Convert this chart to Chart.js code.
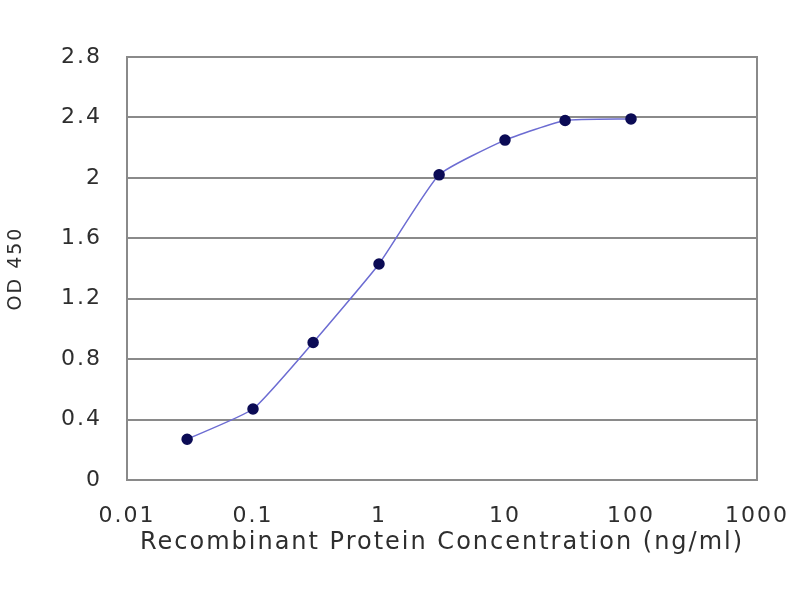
<!DOCTYPE html>
<html>
<head>
<meta charset="utf-8">
<script src="https://cdn.jsdelivr.net/npm/chart.js@4/dist/chart.umd.min.js"></script>
<style>
  html, body { margin: 0; padding: 0; background: #fff; }
  #wrap { width: 800px; height: 600px; }
</style>
</head>
<body>
<div id="wrap"><canvas id="myChart" width="800" height="600"></canvas></div>
<script>
// concentration (ng/ml) and OD 450
var concentration = [0.03, 0.1, 0.3, 1, 3, 10, 30, 100];
var od450 = [0.27, 0.47, 0.91, 1.43, 2.02, 2.25, 2.38, 2.39];
var xTicks = [0.01, 0.1, 1, 10, 100, 1000];
var yTicks = [0, 0.4, 0.8, 1.2, 1.6, 2, 2.4, 2.8];

var points = concentration.map(function (c, i) {
    return { x: c, y: od450[i] };
});

// the original lettering is wide, open it up a little
function widen(chart) {
    chart.ctx.letterSpacing = '2px';
}
var spacing = {
    id: 'spacing',
    beforeUpdate: widen,
    beforeLayout: widen,
    beforeDraw: widen
};

// grey frame round the plot area
var frame = {
    id: 'frame',
    beforeDatasetsDraw: function (chart) {
        var a = chart.chartArea, c = chart.ctx;
        c.save();
        c.strokeStyle = '#8a8a8a';
        c.lineWidth = 2;
        c.strokeRect(a.left, a.top, a.right - a.left, a.bottom - a.top);
        c.restore();
    }
};

var tickFont = { family: 'DejaVu Sans', size: 22 };

var myChart = new Chart(document.getElementById('myChart'), {
    type: 'line',
    data: {
        datasets: [{
            label: 'OD 450',
            data: points,
            borderColor: '#6c6cd2',
            borderWidth: 1.5,
            backgroundColor: '#0b0b55',
            pointBackgroundColor: '#0b0b55',
            pointBorderColor: '#0b0b55',
            pointRadius: 5,
            tension: 0.15,
            fill: false
        }]
    },
    plugins: [spacing, frame],
    options: {
        responsive: false,
        animation: false,
        layout: { padding: { left: 0, right: 43, top: 57, bottom: 0 } },
        plugins: { legend: { display: false }, tooltip: { enabled: false } },
        scales: {
            x: {
                type: 'logarithmic',
                min: xTicks[0],
                max: xTicks[xTicks.length - 1],
                afterBuildTicks: function (s) {
                    s.ticks = xTicks.map(function (v) { return { value: v }; });
                },
                afterFit: function (s) {
                    s.height = 120;
                    s.paddingLeft = 0;
                    s.paddingRight = 0;
                },
                grid: { drawOnChartArea: false, drawTicks: false },
                border: { display: false },
                ticks: {
                    autoSkip: false,
                    maxRotation: 0,
                    padding: 23,
                    color: '#2e2e2e',
                    font: tickFont,
                    callback: function (v) { return String(v); }
                },
                title: {
                    display: true,
                    text: 'Recombinant Protein Concentration (ng/ml)',
                    color: '#2e2e2e',
                    font: { family: 'DejaVu Sans', size: 24 },
                    padding: { top: 0, bottom: 43 }
                }
            },
            y: {
                min: 0,
                max: 2.8,
                afterBuildTicks: function (s) {
                    s.ticks = yTicks.map(function (v) { return { value: v }; });
                },
                afterFit: function (s) { s.width = 127; },
                grid: { color: '#8a8a8a', lineWidth: 2, drawTicks: false },
                border: { display: false },
                ticks: {
                    padding: 25,
                    color: '#2e2e2e',
                    font: tickFont,
                    callback: function (v) { return String(Number(v.toFixed(1))); }
                },
                title: {
                    display: true,
                    text: 'OD 450',
                    color: '#2e2e2e',
                    font: { family: 'DejaVu Sans', size: 19 },
                    padding: { top: 5, bottom: 0 }
                }
            }
        }
    }
});
</script>
</body>
</html>
